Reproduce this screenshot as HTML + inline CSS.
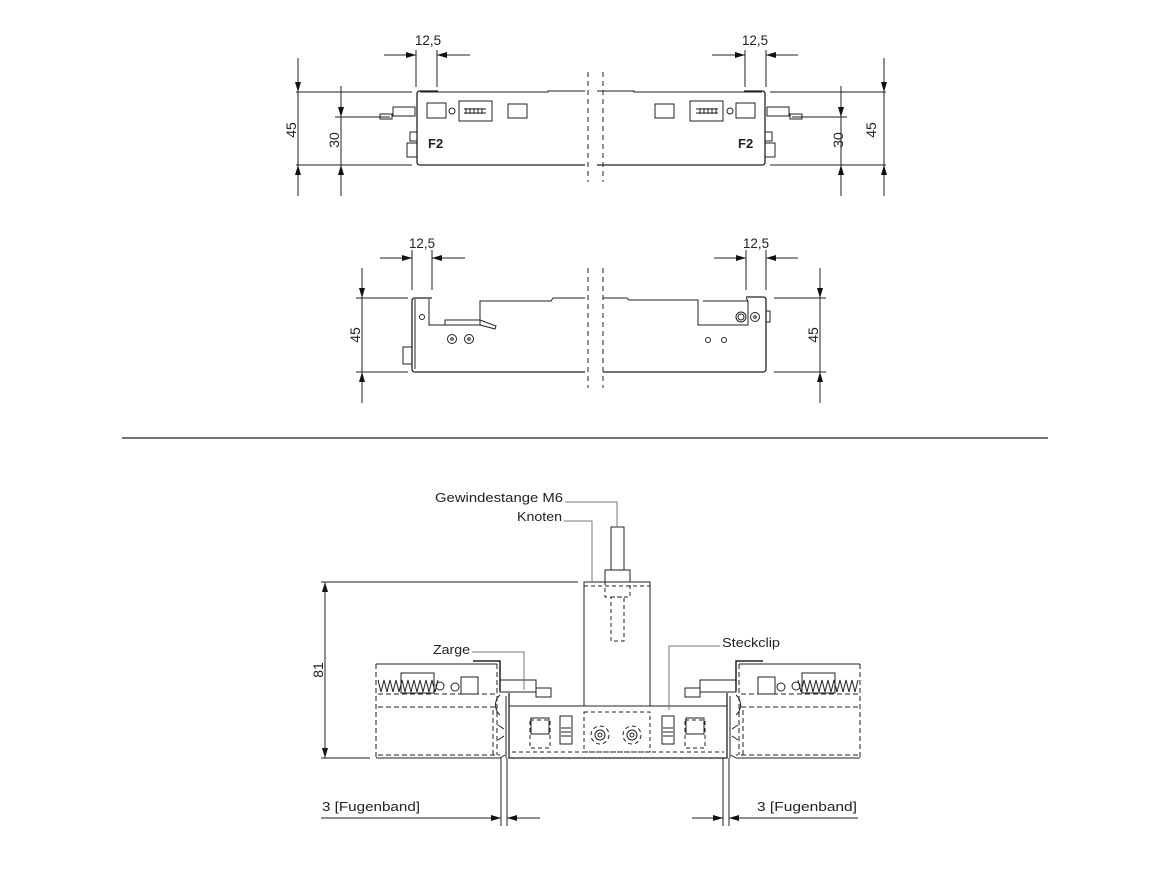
<!DOCTYPE html>
<html><head><meta charset="utf-8"><style>
html,body{margin:0;padding:0;background:#fff}
svg{display:block}
text{font-family:"Liberation Sans",sans-serif;fill:#222}
</style></head><body>
<svg width="1170" height="878" viewBox="0 0 1170 878" xmlns="http://www.w3.org/2000/svg">
<defs>
<marker id="a" viewBox="0 0 10 6" refX="10" refY="3" markerWidth="10" markerHeight="6" orient="auto-start-reverse" markerUnits="userSpaceOnUse"><path d="M0,0L10,3L0,6Z" fill="#111"/></marker>
</defs>
<g stroke="#222" stroke-width="1" fill="none">

<g id="tl">
<line x1="296" y1="92" x2="412" y2="92"/>
<line x1="296" y1="165" x2="412" y2="165"/>
<line x1="298" y1="58" x2="298" y2="92" marker-end="url(#a)"/>
<line x1="298" y1="196" x2="298" y2="165" marker-end="url(#a)"/>
<line x1="298" y1="92" x2="298" y2="165"/>
<line x1="335" y1="117" x2="390" y2="117"/>
<line x1="341" y1="86" x2="341" y2="117" marker-end="url(#a)"/>
<line x1="341" y1="196" x2="341" y2="165" marker-end="url(#a)"/>
<line x1="341" y1="117" x2="341" y2="165"/>
<line x1="416" y1="50" x2="416" y2="87"/>
<line x1="437" y1="50" x2="437" y2="87"/>
<line x1="384" y1="55" x2="416" y2="55" marker-end="url(#a)"/>
<line x1="470" y1="55" x2="437" y2="55" marker-end="url(#a)"/>
<path d="M438,91 L420,91 Q417,91 417,94 L417,162 Q417,165 420,165 L585,165" stroke-width="1.3"/>
<path d="M420,92 L548,92 L548,91 L585,91" stroke-width="1"/>
<rect x="393" y="107" width="22" height="9"/>
<rect x="380" y="114" width="12" height="5"/>
<rect x="427" y="103" width="19" height="15"/>
<circle cx="452" cy="111" r="3"/>
<rect x="459" y="101" width="33" height="20"/>
<path d="M464,109 h22 M464,113 h22 M466,108 v6 M470,108 v6 M474,108 v6 M478,108 v6 M482,108 v6"/>
<rect x="508" y="104" width="19" height="14"/>
<rect x="410" y="132" width="7" height="9"/>
<rect x="407" y="143" width="10" height="14"/>
</g>
<use href="#tl" transform="translate(1182,0) scale(-1,1)"/>

<g stroke-dasharray="5,4">
<line x1="588" y1="72" x2="588" y2="182"/>
<line x1="603" y1="72" x2="603" y2="182"/>
<line x1="588" y1="268" x2="588" y2="388"/>
<line x1="603" y1="268" x2="603" y2="388"/>
</g>

<line x1="356" y1="298" x2="408" y2="298"/>
<line x1="356" y1="372" x2="408" y2="372"/>
<line x1="362" y1="268" x2="362" y2="298" marker-end="url(#a)"/>
<line x1="362" y1="403" x2="362" y2="372" marker-end="url(#a)"/>
<line x1="362" y1="298" x2="362" y2="372"/>
<line x1="412" y1="250" x2="412" y2="290"/>
<line x1="432" y1="250" x2="432" y2="290"/>
<line x1="380" y1="258" x2="412" y2="258" marker-end="url(#a)"/>
<line x1="465" y1="258" x2="432" y2="258" marker-end="url(#a)"/>
<path d="M432,298 L415,298 Q412,298 412,301 L412,369 Q412,372 415,372 L585,372" stroke-width="1.3"/>
<path d="M415,299 L415,369"/>
<path d="M429,299 L429,325 L480,325 L480,301 L551,301 L553,298 L585,298"/>
<rect x="445" y="320" width="35" height="5"/>
<path d="M480,320 L496,326 L495,329 L480,325"/>
<circle cx="422" cy="317" r="2.5"/>
<circle cx="452" cy="339" r="4.5"/><circle cx="452" cy="339" r="1.3"/>
<circle cx="469" cy="339" r="4.5"/><circle cx="469" cy="339" r="1.3"/>
<rect x="403" y="347" width="9" height="17"/>

<line x1="774" y1="298" x2="826" y2="298"/>
<line x1="774" y1="372" x2="826" y2="372"/>
<line x1="820" y1="268" x2="820" y2="298" marker-end="url(#a)"/>
<line x1="820" y1="403" x2="820" y2="372" marker-end="url(#a)"/>
<line x1="820" y1="298" x2="820" y2="372"/>
<line x1="746" y1="250" x2="746" y2="290"/>
<line x1="766" y1="250" x2="766" y2="290"/>
<line x1="714" y1="258" x2="746" y2="258" marker-end="url(#a)"/>
<line x1="798" y1="258" x2="766" y2="258" marker-end="url(#a)"/>
<path d="M746,297 L763,297 Q766,297 766,300 L766,369 Q766,372 763,372 L603,372" stroke-width="1.3"/>
<path d="M603,298 L627,298 L629,300 L698,300 L698,325 L748,325 L748,301 L746,298"/>
<path d="M703,301 L748,301"/>
<circle cx="741" cy="317" r="5"/><circle cx="741" cy="317" r="3"/>
<circle cx="755" cy="317" r="4.5"/><circle cx="755" cy="317" r="1.3"/>
<circle cx="708" cy="340" r="2.5"/>
<circle cx="724" cy="340" r="2.5"/>
<rect x="766" y="311" width="4" height="11"/>

<line x1="122" y1="438" x2="1048" y2="438" stroke-width="1.2"/>

<line x1="321" y1="582" x2="578" y2="582"/>
<line x1="321" y1="758" x2="370" y2="758"/>
<line x1="325" y1="620" x2="325" y2="582" marker-end="url(#a)"/>
<line x1="325" y1="720" x2="325" y2="758" marker-end="url(#a)"/>
<line x1="325" y1="582" x2="325" y2="758"/>
<rect x="584" y="582" width="66" height="124"/>
<rect x="611" y="527" width="13" height="43"/>
<rect x="605" y="570" width="25" height="12"/>
<g stroke-dasharray="4,3">
<rect x="605" y="582" width="25" height="15"/>
<rect x="611" y="597" width="13" height="44"/>
<line x1="584" y1="586" x2="650" y2="586"/>
</g>
<path d="M509,693 L509,758 L727,758 L727,693" stroke-width="1.3"/>
<line x1="506" y1="696" x2="506" y2="758"/>
<line x1="730" y1="696" x2="730" y2="758"/>
<line x1="509" y1="706" x2="727" y2="706"/>
<g stroke-dasharray="4,3">
<line x1="512" y1="752" x2="724" y2="752"/>
<rect x="584" y="712" width="66" height="40"/>
<rect x="530" y="720" width="20" height="28"/>
<rect x="685" y="720" width="20" height="28"/>
</g>
<rect x="531" y="718" width="18" height="16"/>
<rect x="686" y="718" width="18" height="16"/>
<rect x="560" y="716" width="12" height="28"/>
<rect x="662" y="716" width="12" height="28"/>
<path d="M561,728h10M561,732h10M561,736h10M663,728h10M663,732h10M663,736h10"/>
<circle cx="600" cy="735" r="5"/><circle cx="600" cy="735" r="2"/>
<circle cx="632" cy="735" r="5"/><circle cx="632" cy="735" r="2"/>
<g stroke-dasharray="4,3"><circle cx="600" cy="735" r="9"/><circle cx="632" cy="735" r="9"/></g>

<g id="lp">
<line x1="376" y1="664" x2="497" y2="664"/>
<line x1="376" y1="758" x2="500" y2="758"/>
<g stroke-dasharray="5,3">
<line x1="376" y1="664" x2="376" y2="758"/>
<line x1="378" y1="694" x2="495" y2="694"/>
<line x1="378" y1="707" x2="495" y2="707"/>
<line x1="378" y1="755" x2="500" y2="755"/>
<line x1="497" y1="664" x2="497" y2="755"/>
<line x1="493" y1="710" x2="493" y2="755"/>
</g>
<path d="M378,680 l3,12 l3,-12 l3,12 l3,-12 l3,12 l3,-12 l3,12 l3,-12 l3,12 l3,-12 l3,12 l3,-12 l3,12 l3,-12 l3,12 l3,-12 l3,12 l3,-12 l3,12 l3,-12"/>
<rect x="401" y="673" width="33" height="20"/>
<circle cx="440" cy="686" r="4"/>
<circle cx="455" cy="687" r="4"/>
<rect x="461" y="677" width="17" height="17"/>
<path d="M473,661 L500,661 L500,691" stroke-width="1.5"/>
<rect x="500" y="680" width="36" height="12"/>
<rect x="536" y="688" width="15" height="9"/>
<path d="M500,695 C494,700 494,710 500,715 M498,725 l6,4 M498,740 l6,-4 M505,755 l-5,3"/>
</g>
<use href="#lp" transform="translate(1236,0) scale(-1,1)"/>

<g stroke="#777">
<polyline points="565,502 617,502 617,527"/>
<polyline points="564,521 592,521 592,582"/>
<polyline points="472,652 524,652 524,690"/>
<polyline points="720,646 669,646 669,710"/>
</g>

<line x1="501" y1="758" x2="501" y2="826"/>
<line x1="507" y1="758" x2="507" y2="826"/>
<line x1="321" y1="818" x2="501" y2="818" marker-end="url(#a)"/>
<line x1="540" y1="818" x2="507" y2="818" marker-end="url(#a)"/>
<line x1="723" y1="758" x2="723" y2="826"/>
<line x1="729" y1="758" x2="729" y2="826"/>
<line x1="692" y1="818" x2="723" y2="818" marker-end="url(#a)"/>
<line x1="858" y1="818" x2="729" y2="818" marker-end="url(#a)"/>
</g>

<g font-size="14">
<text x="415" y="45" textLength="26" lengthAdjust="spacingAndGlyphs">12,5</text>
<text x="742" y="45" textLength="26" lengthAdjust="spacingAndGlyphs">12,5</text>
<text x="409" y="248" textLength="26" lengthAdjust="spacingAndGlyphs">12,5</text>
<text x="743" y="248" textLength="26" lengthAdjust="spacingAndGlyphs">12,5</text>
<text transform="translate(296,130) rotate(-90)" text-anchor="middle">45</text>
<text transform="translate(339,140) rotate(-90)" text-anchor="middle">30</text>
<text transform="translate(843,140) rotate(-90)" text-anchor="middle">30</text>
<text transform="translate(876,130) rotate(-90)" text-anchor="middle">45</text>
<text transform="translate(360,335) rotate(-90)" text-anchor="middle">45</text>
<text transform="translate(818,335) rotate(-90)" text-anchor="middle">45</text>
<text transform="translate(323,670) rotate(-90)" text-anchor="middle">81</text>
<text x="428" y="148" font-weight="bold" font-size="13">F2</text>
<text x="738" y="148" font-weight="bold" font-size="13">F2</text>
<text x="435" y="502" font-size="13" textLength="128" lengthAdjust="spacingAndGlyphs">Gewindestange M6</text>
<text x="517" y="521" font-size="13" textLength="45" lengthAdjust="spacingAndGlyphs">Knoten</text>
<text x="433" y="654" font-size="13" textLength="37" lengthAdjust="spacingAndGlyphs">Zarge</text>
<text x="722" y="647" font-size="13" textLength="58" lengthAdjust="spacingAndGlyphs">Steckclip</text>
<text x="322" y="811" font-size="13" textLength="98" lengthAdjust="spacingAndGlyphs">3 [Fugenband]</text>
<text x="757" y="811" font-size="13" textLength="100" lengthAdjust="spacingAndGlyphs">3 [Fugenband]</text>
</g>
</svg>
</body></html>
